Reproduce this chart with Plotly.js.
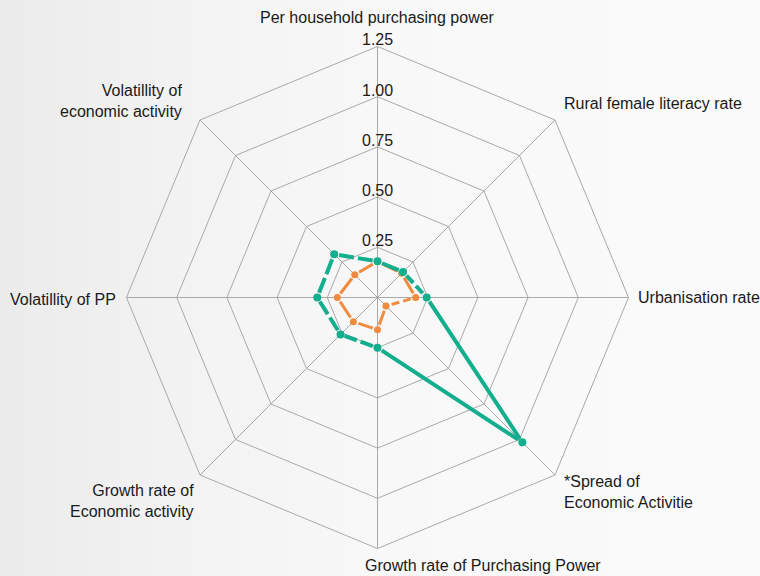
<!DOCTYPE html>
<html>
<head>
<meta charset="utf-8">
<script src="https://cdn.plot.ly/plotly-3.0.1.min.js"></script>
<style>
  html, body { margin: 0; padding: 0; }
  body { width: 760px; height: 576px; background: linear-gradient(to right, #ebebeb 0%, #f3f3f3 25%, #f8f8f8 50%, #fbfbfb 100%); }
  #chart { width: 760px; height: 576px; }
</style>
</head>
<body>
<div id="chart"></div>
<script>
// ---- data ----
const categories = [
  "Per household purchasing power",
  "Rural female literacy rate",
  "Urbanisation rate",
  "*Spread of<br>Economic Activitie",
  "Growth rate of Purchasing Power",
  "Growth rate of<br>Economic activity",
  "Volatillity of PP",
  "Volatillity of<br>economic activity"
];
const seriesGreen = [0.18, 0.18, 0.245, 1.02, 0.25, 0.26, 0.30, 0.305];
const seriesOrange = [0.18, 0.17, 0.19, 0.06, 0.16, 0.17, 0.20, 0.16];
const radialTicks = [0.25, 0.50, 0.75, 1.00, 1.25];

// ---- style ----
const GREEN = "#13AE8E";
const ORANGE = "#EF8A3E";
const GRID = "#a9a9a9";
const FONT = "Arial, 'Liberation Sans', sans-serif";
const rMax = radialTicks[radialTicks.length - 1];

const W = 760, H = 576;
const domX = [0.1664, 0.8270], domY = [0.0477, 0.9193];
const radiusPx = Math.min((domX[1] - domX[0]) * W, (domY[1] - domY[0]) * H) / 2;
const pxPerUnit = radiusPx / rMax;
const step = 2 * Math.PI / categories.length;
const cx = (domX[0] + domX[1]) / 2, cy = (domY[0] + domY[1]) / 2;

function segDash(r1, r2) {
  const a = r1 * pxPerUnit, b = r2 * pxPerUnit;
  const S = Math.sqrt(a * a + b * b - 2 * a * b * Math.cos(step));
  if (S > 60) {
    return "0px,5px," + Math.round(S - 10) + "px,100px";
  } else if (S > 30) {
    const D = Math.max(1, Math.round((S - 14) / 2));
    return "0px,5px," + D + "px,4px," + D + "px,100px";
  }
  return "0px,5px," + Math.max(1, Math.round(S - 10)) + "px,100px";
}

function seriesTraces(vals, color, width, msize) {
  const out = [];
  const n = vals.length;
  for (let i = 0; i < n; i++) {
    const j = (i + 1) % n;
    out.push({
      type: "scatterpolar", mode: "lines",
      r: [vals[i], vals[j]], theta: [categories[i], categories[j]],
      line: { color: color, width: width, dash: segDash(vals[i], vals[j]) },
      hoverinfo: "skip", showlegend: false
    });
  }
  out.push({
    type: "scatterpolar", mode: "markers",
    r: vals, theta: categories,
    marker: { color: color, size: msize },
    showlegend: false
  });
  return out;
}

const traces = [];
traces.push(...seriesTraces(seriesOrange, ORANGE, 3, 7));
traces.push(...seriesTraces(seriesGreen, GREEN, 4, 8));

// radial tick labels along the first (vertical) spoke
const tickAnnotations = radialTicks.map(v => ({
  xref: "paper", yref: "paper",
  x: cx, y: cy + (v * pxPerUnit) / H,
  xanchor: "center", yanchor: "bottom", yshift: -4,
  text: v.toFixed(2), showarrow: false,
  font: { family: FONT, size: 16, color: "#1a1a1a" }
}));

// category labels: placed at the outer polygon vertices (paper coords from polar geometry)
const labelStyle = [
  { xa: "center", ya: "bottom", dx: 0,   dy: 18,  al: "center" },
  { xa: "left",   ya: "middle", dx: 7,   dy: 17,  al: "left" },
  { xa: "left",   ya: "middle", dx: 7,   dy: 0,   al: "left" },
  { xa: "left",   ya: "top",    dx: 7,   dy: 4,   al: "left" },
  { xa: "left",   ya: "middle", dx: -14, dy: -17, al: "left" },
  { xa: "right",  ya: "top",    dx: -4,  dy: -5,  al: "right" },
  { xa: "right",  ya: "middle", dx: -8,  dy: -2,  al: "right" },
  { xa: "right",  ya: "bottom", dx: -16, dy: -2,  al: "right" }
];
const labelAnnotations = categories.map((c, i) => {
  const ang = Math.PI / 2 - i * step;
  const s = labelStyle[i];
  return {
    xref: "paper", yref: "paper",
    x: cx + (radiusPx * Math.cos(ang)) / W,
    y: cy + (radiusPx * Math.sin(ang)) / H,
    xanchor: s.xa, yanchor: s.ya, xshift: s.dx, yshift: s.dy, align: s.al,
    text: c, showarrow: false,
    font: { family: FONT, size: 16, color: "#1a1a1a" }
  };
});

const layout = {
  width: W, height: H,
  margin: { l: 0, r: 0, t: 0, b: 0 },
  paper_bgcolor: "rgba(0,0,0,0)",
  plot_bgcolor: "rgba(0,0,0,0)",
  showlegend: false,
  font: { family: FONT, color: "#1a1a1a" },
  annotations: tickAnnotations.concat(labelAnnotations),
  polar: {
    domain: { x: domX, y: domY },
    bgcolor: "rgba(0,0,0,0)",
    gridshape: "linear",
    angularaxis: {
      type: "category",
      categoryarray: categories,
      direction: "clockwise",
      rotation: 90,
      showticklabels: false,
      ticks: "",
      showgrid: true,
      gridcolor: GRID, gridwidth: 1,
      showline: true, linecolor: GRID, linewidth: 1
    },
    radialaxis: {
      range: [0, rMax],
      tickvals: radialTicks,
      showticklabels: false,
      ticks: "",
      showline: false,
      showgrid: true,
      gridcolor: GRID, gridwidth: 1,
      angle: 90
    }
  }
};

Plotly.newPlot("chart", traces, layout, { staticPlot: true, displayModeBar: false });
</script>
</body>
</html>
